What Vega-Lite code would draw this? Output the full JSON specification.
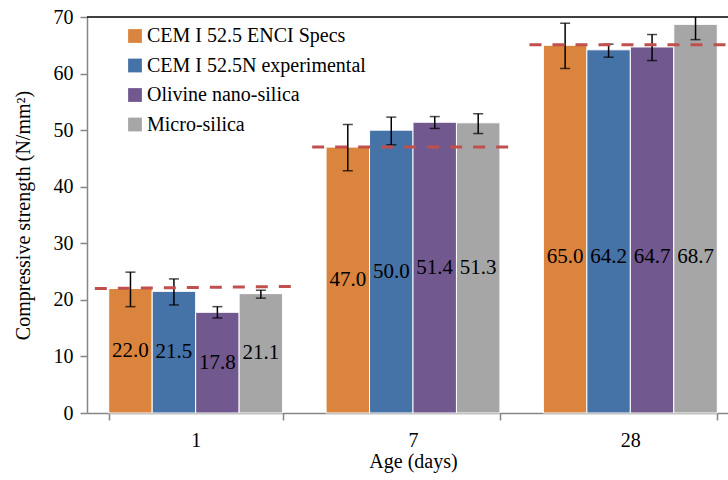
{
  "$schema": "https://vega.github.io/schema/vega-lite/v6.json",
  "width": 652,
  "height": 396,
  "autosize": {"type": "none"},
  "padding": {"left": 87, "top": 17, "right": 0, "bottom": 67},
  "background": "white",
  "config": {
    "font": "Times New Roman, Liberation Serif, serif",
    "view": {"stroke": null},
    "axis": {
      "labelFont": "Times New Roman, Liberation Serif, serif",
      "titleFont": "Times New Roman, Liberation Serif, serif",
      "labelColor": "black",
      "titleColor": "black",
      "labelFontSize": 20,
      "titleFontSize": 20,
      "titleFontWeight": "normal",
      "domainColor": "#868686",
      "tickColor": "#868686",
      "domainWidth": 1.5,
      "tickWidth": 1.5,
      "tickSize": 7,
      "grid": false
    },
    "legend": {"labelFont": "Times New Roman, Liberation Serif, serif"},
    "text": {"font": "Times New Roman, Liberation Serif, serif"}
  },
  "datasets": {
    "bars": [
      {"age": "1", "material": "CEM I 52.5 ENCI Specs", "value": 22.0, "low": 18.8, "high": 24.9},
      {"age": "1", "material": "CEM I 52.5N experimental", "value": 21.5, "low": 19.1, "high": 23.7},
      {"age": "1", "material": "Olivine nano-silica", "value": 17.8, "low": 16.8, "high": 18.8},
      {"age": "1", "material": "Micro-silica", "value": 21.1, "low": 20.3, "high": 21.7},
      {"age": "7", "material": "CEM I 52.5 ENCI Specs", "value": 47.0, "low": 42.8, "high": 51.0},
      {"age": "7", "material": "CEM I 52.5N experimental", "value": 50.0, "low": 47.4, "high": 52.3},
      {"age": "7", "material": "Olivine nano-silica", "value": 51.4, "low": 50.3, "high": 52.4},
      {"age": "7", "material": "Micro-silica", "value": 51.3, "low": 49.4, "high": 52.9},
      {"age": "28", "material": "CEM I 52.5 ENCI Specs", "value": 65.0, "low": 60.9, "high": 68.9},
      {"age": "28", "material": "CEM I 52.5N experimental", "value": 64.2, "low": 62.9, "high": 65.2},
      {"age": "28", "material": "Olivine nano-silica", "value": 64.7, "low": 62.3, "high": 66.9},
      {"age": "28", "material": "Micro-silica", "value": 68.7, "low": 66.0, "high": 71.4}
    ],
    "spec": [
      {"age": "1", "start": 22.0, "end": 22.4},
      {"age": "7", "start": 47.0, "end": 47.0},
      {"age": "28", "start": 65.1, "end": 65.1}
    ]
  },
  "layer": [
    {
      "data": {"name": "bars"},
      "mark": {"type": "bar", "stroke": "white", "strokeWidth": 1},
      "encoding": {
        "x": {
          "field": "age", "type": "nominal", "sort": ["1", "7", "28"],
          "scale": {"paddingInner": 0.2, "paddingOuter": 0.1},
          "axis": {"title": "Age (days)", "labelAngle": 0, "tickBand": "extent", "labelPadding": 10, "titlePadding": 1,
                   "labelFont": "Times New Roman, Liberation Serif, serif", "titleFont": "Times New Roman, Liberation Serif, serif"}
        },
        "xOffset": {
          "field": "material", "type": "nominal",
          "sort": ["CEM I 52.5 ENCI Specs", "CEM I 52.5N experimental", "Olivine nano-silica", "Micro-silica"]
        },
        "y": {
          "field": "value", "type": "quantitative",
          "scale": {"domain": [0, 70], "nice": false},
          "axis": {"title": "Compressive strength (N/mm²)", "values": [0, 10, 20, 30, 40, 50, 60, 70], "labelPadding": 7, "titlePadding": 20,
                   "labelFont": "Times New Roman, Liberation Serif, serif", "titleFont": "Times New Roman, Liberation Serif, serif"}
        },
        "color": {
          "field": "material", "type": "nominal",
          "scale": {
            "domain": ["CEM I 52.5 ENCI Specs", "CEM I 52.5N experimental", "Olivine nano-silica", "Micro-silica"],
            "range": ["#DB843D", "#4572A7", "#71588F", "#A6A6A6"]
          },
          "legend": {
            "title": null, "orient": "none", "legendX": 38, "legendY": 9,
            "symbolType": "square", "symbolSize": 190, "symbolStrokeWidth": 0,
            "labelFontSize": 20, "labelColor": "black", "labelLimit": 0, "rowPadding": 9.5, "labelOffset": 2
          }
        }
      }
    },
    {
      "data": {"name": "bars"},
      "mark": {"type": "rule", "color": "black", "strokeWidth": 1.5, "clip": true},
      "encoding": {
        "x": {"field": "age", "type": "nominal", "sort": ["1", "7", "28"]},
        "xOffset": {"field": "material", "type": "nominal", "sort": ["CEM I 52.5 ENCI Specs", "CEM I 52.5N experimental", "Olivine nano-silica", "Micro-silica"]},
        "y": {"field": "low", "type": "quantitative"},
        "y2": {"field": "high"}
      }
    },
    {
      "data": {"name": "bars"},
      "mark": {"type": "tick", "color": "black", "thickness": 1.5, "size": 10},
      "encoding": {
        "x": {"field": "age", "type": "nominal", "sort": ["1", "7", "28"]},
        "xOffset": {"field": "material", "type": "nominal", "sort": ["CEM I 52.5 ENCI Specs", "CEM I 52.5N experimental", "Olivine nano-silica", "Micro-silica"]},
        "y": {"field": "low", "type": "quantitative"}
      }
    },
    {
      "data": {"name": "bars"},
      "transform": [{"filter": "datum.high <= 70"}],
      "mark": {"type": "tick", "color": "black", "thickness": 1.5, "size": 10},
      "encoding": {
        "x": {"field": "age", "type": "nominal", "sort": ["1", "7", "28"]},
        "xOffset": {"field": "material", "type": "nominal", "sort": ["CEM I 52.5 ENCI Specs", "CEM I 52.5N experimental", "Olivine nano-silica", "Micro-silica"]},
        "y": {"field": "high", "type": "quantitative"}
      }
    },
    {
      "data": {"name": "bars"},
      "transform": [{"calculate": "min(datum.value / 2, 27.5)", "as": "labelPos"}],
      "mark": {"type": "text", "fontSize": 21, "color": "black", "baseline": "middle", "font": "Times New Roman, Liberation Serif, serif"},
      "encoding": {
        "x": {"field": "age", "type": "nominal", "sort": ["1", "7", "28"]},
        "xOffset": {"field": "material", "type": "nominal", "sort": ["CEM I 52.5 ENCI Specs", "CEM I 52.5N experimental", "Olivine nano-silica", "Micro-silica"]},
        "y": {"field": "labelPos", "type": "quantitative"},
        "text": {"field": "value", "type": "quantitative", "format": ".1f"}
      }
    },
    {
      "data": {"name": "spec"},
      "mark": {"type": "rule", "color": "#C0504D", "strokeWidth": 3, "strokeDash": [12, 11]},
      "encoding": {
        "x": {"field": "age", "type": "nominal", "sort": ["1", "7", "28"], "bandPosition": -0.08},
        "x2": {"field": "age", "bandPosition": 1.1},
        "y": {"field": "start", "type": "quantitative"},
        "y2": {"field": "end"}
      }
    },
    {
      "data": {"values": [{}]},
      "mark": {"type": "rule", "color": "black", "strokeWidth": 1.5},
      "encoding": {"y": {"datum": 70}}
    }
  ]
}
